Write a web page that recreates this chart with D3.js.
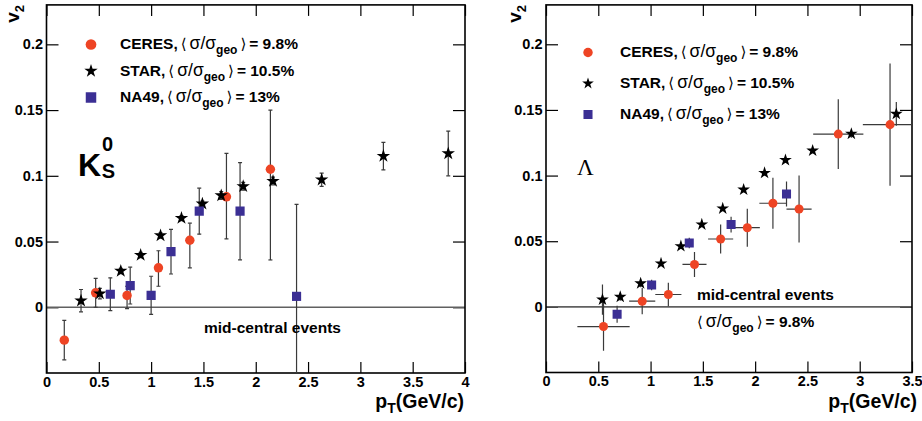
<!DOCTYPE html>
<html>
<head>
<meta charset="utf-8">
<script src="https://cdn.jsdelivr.net/npm/d3@7"></script>
<style>
  body { margin: 0; background: #fff; }
  svg { display: block; font-family: "Liberation Sans", Arial, sans-serif; }
</style>
</head>
<body>
<div id="chart"></div>
<script>
var W = 922, H = 421;

// ---- K0s panel data ----
var k0CeresPt  = [0.17, 0.47, 0.77, 1.07, 1.37, 1.72, 2.14];
var k0CeresV2  = [-0.025, 0.011, 0.009, 0.030, 0.051, 0.084, 0.105];
var k0CeresLo  = [0.015, 0.011, 0.010, 0.014, 0.021, 0.032, 0.069];
var k0CeresHi  = [0.015, 0.011, 0.007, 0.013, 0.013, 0.033, 0.045];

var k0StarPt   = [0.33, 0.51, 0.71, 0.90, 1.09, 1.29, 1.49, 1.67, 1.88, 2.165, 2.63, 3.22, 3.84];
var k0StarV2   = [0.005, 0.0104, 0.0276, 0.0397, 0.0546, 0.0678, 0.0787, 0.085, 0.092, 0.096, 0.097, 0.115, 0.117];
var k0StarErr  = [0.0085, 0.004, 0.002, 0.002, 0.002, 0.002, 0.002, 0.003, 0.003, 0.003, 0.005, 0.0105, 0.017];

var k0Na49Pt   = [0.61, 0.80, 1.00, 1.19, 1.46, 1.85, 2.39];
var k0Na49V2   = [0.0099, 0.0165, 0.0091, 0.0423, 0.0731, 0.0731, 0.0083];
var k0Na49Err  = [0.0125, 0.014, 0.0145, 0.017, 0.0175, 0.037, 0.070];

// ---- Lambda panel data ----
var laCeresPt    = [0.55, 0.92, 1.17, 1.42, 1.67, 1.925, 2.17, 2.42, 2.795, 3.29];
var laCeresPtErr = [0.25, 0.125, 0.125, 0.115, 0.12, 0.12, 0.13, 0.12, 0.24, 0.26];
var laCeresV2    = [-0.015, 0.0043, 0.0094, 0.0323, 0.0517, 0.0603, 0.0789, 0.0745, 0.1316, 0.1388];
var laCeresErr   = [0.0185, 0.010, 0.009, 0.0095, 0.011, 0.0145, 0.0195, 0.0255, 0.0265, 0.0465];

var laStarPt   = [0.54, 0.71, 0.905, 1.10, 1.29, 1.49, 1.69, 1.89, 2.09, 2.29, 2.55, 2.92, 3.35];
var laStarV2   = [0.0055, 0.0076, 0.0179, 0.033, 0.0462, 0.0627, 0.0749, 0.0893, 0.102, 0.1118, 0.119, 0.1318, 0.147];
var laStarErr  = [0.0115, 0.003, 0.003, 0.002, 0.002, 0.002, 0.002, 0.002, 0.002, 0.002, 0.002, 0.003, 0.009];

var laNa49Pt   = [0.68, 1.01, 1.37, 1.77, 2.30];
var laNa49V2   = [-0.0056, 0.0167, 0.0487, 0.0627, 0.086];
var laNa49Err  = [0.0065, 0.004, 0.004, 0.006, 0.0095];

// ---- axes / labels ----
var yTicks = [0, 0.05, 0.1, 0.15, 0.2];
var xTicksK0 = [0, 0.5, 1, 1.5, 2, 2.5, 3, 3.5, 4];
var xTicksLa = [0, 0.5, 1, 1.5, 2, 2.5, 3, 3.5];
var legendNames = ['CERES', 'STAR', 'NA49'];
var legendPcts = ['9.8%', '10.5%', '13%'];

var RED = '#ee4424', BLUE = '#3b2f94', ERR = '#3a3a3a';

var svg = d3.select('#chart').append('svg').attr('width', W).attr('height', H);

var fmt = function(v){ return String(+v.toFixed(3)); };

function drawPanel(p){
  var x = d3.scaleLinear().domain(p.xDomain).range(p.xRange);
  var y = d3.scaleLinear().domain([-0.05, 0.23]).range([p.bottom, 4.9]);
  var g = svg.append('g');
  var x0 = p.xRange[0], x1 = p.xRange[1];

  var clip = g.append('clipPath').attr('id', p.id + '-clip');
  clip.append('rect').attr('x', x0).attr('y', 4.9).attr('width', x1 - x0).attr('height', p.bottom - 4.9);

  var xMinor = d3.range(0, p.xDomain[1] + 1e-6, 0.1);
  var yMinor = d3.range(-0.05, 0.2300001, 0.01);

  // bottom axis
  var ax = g.append('g').attr('transform', 'translate(0,' + p.bottom + ')');
  ax.call(d3.axisBottom(x).tickValues(xMinor).tickSize(-5).tickFormat(''));
  ax.call(d3.axisBottom(x).tickValues(p.xTicks).tickSize(-11).tickPadding(3.5).tickFormat(fmt));
  // top axis
  var axT = g.append('g').attr('transform', 'translate(0,4.9)');
  axT.call(d3.axisTop(x).tickValues(xMinor).tickSize(-5).tickFormat(''));
  axT.call(d3.axisTop(x).tickValues(p.xTicks).tickSize(-11).tickFormat(''));
  // left axis
  var ay = g.append('g').attr('transform', 'translate(' + x0 + ',0)');
  ay.call(d3.axisLeft(y).tickValues(yMinor).tickSize(-6).tickFormat(''));
  ay.call(d3.axisLeft(y).tickValues(yTicks).tickSize(-12).tickPadding(3.5).tickFormat(fmt));
  // right axis
  var ayR = g.append('g').attr('transform', 'translate(' + x1 + ',0)');
  ayR.call(d3.axisRight(y).tickValues(yMinor).tickSize(-6).tickFormat(''));
  ayR.call(d3.axisRight(y).tickValues(yTicks).tickSize(-12).tickFormat(''));

  g.selectAll('.domain').remove();
  g.selectAll('.tick line').attr('stroke', '#000').attr('stroke-width', 1.2);
  g.selectAll('.tick text').attr('font-size', 14.5).attr('font-weight', 'bold')
    .attr('font-family', '"Liberation Sans", Arial, sans-serif').attr('fill', '#000');

  // zero line
  g.append('line').attr('x1', x0).attr('x2', x1).attr('y1', y(0)).attr('y2', y(0))
    .attr('stroke', '#606060').attr('stroke-width', 1.6);

  // frame
  g.append('rect').attr('x', x0).attr('y', 4.9).attr('width', x1 - x0).attr('height', p.bottom - 4.9)
    .attr('fill', 'none').attr('stroke', '#000').attr('stroke-width', 1.6);

  var plot = g.append('g').attr('clip-path', 'url(#' + p.id + '-clip)');

  // error bars
  p.series.forEach(function(s){
    var eb = plot.append('g').selectAll('g').data(s.data).enter().append('g');
    eb.append('line')
      .attr('x1', function(d){ return x(d.pt); }).attr('x2', function(d){ return x(d.pt); })
      .attr('y1', function(d){ return y(d.v2 - d.lo); }).attr('y2', function(d){ return y(d.v2 + d.hi); })
      .attr('stroke', ERR).attr('stroke-width', 1.2);
    if(p.caps){
      [function(d){ return y(d.v2 - d.lo); }, function(d){ return y(d.v2 + d.hi); }].forEach(function(fy){
        eb.append('line')
          .attr('x1', function(d){ return x(d.pt) - 2; }).attr('x2', function(d){ return x(d.pt) + 2; })
          .attr('y1', fy).attr('y2', fy)
          .attr('stroke', ERR).attr('stroke-width', 1.2);
      });
    }
    eb.filter(function(d){ return d.ex; }).append('line')
      .attr('x1', function(d){ return x(d.pt - d.ex); }).attr('x2', function(d){ return x(d.pt + d.ex); })
      .attr('y1', function(d){ return y(d.v2); }).attr('y2', function(d){ return y(d.v2); })
      .attr('stroke', ERR).attr('stroke-width', 1.2);
  });

  // markers
  p.series.forEach(function(s){
    plot.append('g').selectAll('path').data(s.data).enter().append('path')
      .attr('d', d3.symbol().type(s.type).size(s.size))
      .attr('transform', function(d){ return 'translate(' + x(d.pt) + ',' + y(d.v2) + ')'; })
      .attr('fill', s.color);
  });

  // legend
  legendNames.forEach(function(name, i){
    var s = p.series[i];
    var ly = p.legY + i * p.legStep;
    g.append('path').attr('d', d3.symbol().type(s.type).size(s.legSize))
      .attr('transform', 'translate(' + p.legX + ',' + (ly - 4.5) + ')')
      .attr('fill', s.color);
    sigmaText(g.append('text').attr('x', p.legTextX).attr('y', ly), name + ',', legendPcts[i]);
  });

  // axis titles
  var vt = g.append('text').attr('transform', 'translate(' + p.vTitleX + ',5) rotate(-90)')
    .attr('text-anchor', 'end').attr('font-size', 19).attr('font-weight', 'bold');
  vt.append('tspan').text('v');
  vt.append('tspan').attr('font-size', 13).attr('dy', 5).text('2');

  var pt = g.append('text').attr('x', x1 + p.ptOffset).attr('y', 408)
    .attr('text-anchor', 'end').attr('font-size', 19.5).attr('font-weight', 'bold');
  pt.append('tspan').text('p');
  pt.append('tspan').attr('font-size', 14).attr('dy', 5).text('T');
  pt.append('tspan').attr('dy', -5).text('(GeV/c)');

  return {x: x, y: y, g: g};
}

function sigmaText(t, name, pct){
  t.attr('font-size', 15.5).attr('fill', '#000');
  if(name){ t.append('tspan').attr('font-weight', 'bold').text(name); }
  t.append('tspan').attr('font-family', '"DejaVu Sans"').attr('font-size', 15).attr('dx', name ? 3 : 0).text('\u27E8');
  t.append('tspan').attr('font-size', 17.5).attr('dx', 3).text('\u03C3/\u03C3');
  t.append('tspan').attr('font-weight', 'bold').attr('font-size', 12).attr('dy', 5).text('geo');
  t.append('tspan').attr('font-family', '"DejaVu Sans"').attr('font-size', 15).attr('dy', -5).attr('dx', 3).text('\u27E9');
  t.append('tspan').attr('font-weight', 'bold').attr('dx', 3).text('= ' + pct);
  return t;
}

var mk = function(pt, v2, lo, hi, ex){
  return pt.map(function(d, i){
    return {pt: d, v2: v2[i], lo: lo[i], hi: hi[i], ex: ex ? ex[i] : 0};
  });
};

var left = drawPanel({
  id: 'k0', xDomain: [0, 4], xRange: [46.5, 465], bottom: 373, xTicks: xTicksK0, caps: true,
  legX: 91, legTextX: 120, legY: 49, legStep: 26.5, vTitleX: 19, ptOffset: -1,
  series: [
    {type: d3.symbolCircle, size: 70, legSize: 90, color: RED, data: mk(k0CeresPt, k0CeresV2, k0CeresLo, k0CeresHi)},
    {type: d3.symbolStar, size: 56, legSize: 56, color: '#000', data: mk(k0StarPt, k0StarV2, k0StarErr, k0StarErr)},
    {type: d3.symbolSquare, size: 84, legSize: 110, color: BLUE, data: mk(k0Na49Pt, k0Na49V2, k0Na49Err, k0Na49Err)}
  ]
});

var right = drawPanel({
  id: 'la', xDomain: [0, 3.5], xRange: [546, 912], bottom: 372.5, xTicks: xTicksLa, caps: false,
  legX: 588, legTextX: 620, legY: 57, legStep: 31, vTitleX: 521, ptOffset: 5,
  series: [
    {type: d3.symbolCircle, size: 64, legSize: 70, color: RED, data: mk(laCeresPt, laCeresV2, laCeresErr, laCeresErr, laCeresPtErr)},
    {type: d3.symbolStar, size: 50, legSize: 42, color: '#000', data: mk(laStarPt, laStarV2, laStarErr, laStarErr)},
    {type: d3.symbolSquare, size: 82, legSize: 82, color: BLUE, data: mk(laNa49Pt, laNa49V2, laNa49Err, laNa49Err)}
  ]
});

// panel annotations
var k0 = left.g.append('text').attr('x', 78).attr('y', 176).attr('font-weight', 'bold').attr('font-size', 32);
k0.append('tspan').text('K');
k0.append('tspan').attr('font-size', 20).attr('dx', 1).attr('dy', -25).text('0');
k0.append('tspan').attr('font-size', 20).attr('dx', -11.5).attr('dy', 27).text('S');

right.g.append('text').attr('x', 577).attr('y', 175).attr('font-family', '"Liberation Serif", serif')
  .attr('font-size', 23).text('\u039B');

left.g.append('text').attr('x', 204).attr('y', 333).attr('font-size', 15.5).attr('font-weight', 'bold')
  .text('mid-central events');
right.g.append('text').attr('x', 697).attr('y', 300).attr('font-size', 15.5).attr('font-weight', 'bold')
  .text('mid-central events');
sigmaText(right.g.append('text').attr('x', 697).attr('y', 327), '', '9.8%');
</script>
</body>
</html>
